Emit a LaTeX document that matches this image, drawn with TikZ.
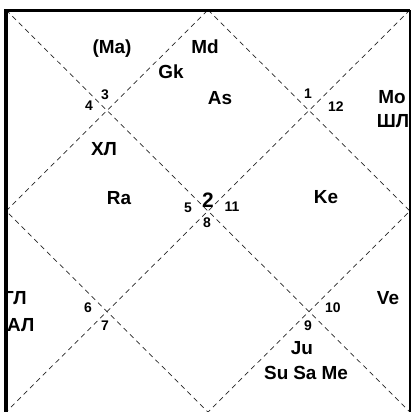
\documentclass[tikz,border=0pt]{standalone}
\usepackage{fontspec}
\setmainfont{Liberation Sans}[BoldFont={Liberation Sans Bold}]
\usetikzlibrary{positioning}

\begin{document}
\begin{tikzpicture}[
    x=1bp, y=-1bp,
    house/.style={
        draw=black!85,
        line width=0.7bp,
        dash pattern=on 5bp off 4bp
    },
    frame/.style={
        draw=black,
        line width=3bp
    },
    planet/.style={
        font=\fontsize{19}{19}\selectfont\bfseries,
        text=black,
        inner sep=0pt
    },
    sign/.style={
        font=\fontsize{14}{14}\selectfont\bfseries,
        text=black,
        inner sep=0pt
    }
]
\useasboundingbox (0,0) rectangle (412,412);

% corners and side midpoints
\coordinate (TL) at (6,10);
\coordinate (TR) at (410,10);
\coordinate (BL) at (6,412);
\coordinate (BR) at (410,412);
\coordinate (T) at (208,10);
\coordinate (R) at (410,211);
\coordinate (B) at (208,412);
\coordinate (L) at (6,211);

% houses
\draw[house] (TL) -- (BR);
\draw[house] (TR) -- (BL);
\draw[house] (T) -- (R) -- (B) -- (L) -- cycle;

% planets
\node[planet] (Ma) at (112,49) {(Ma)};
\node[planet] (Md) at (205,47) {Md};
\node[planet] (Gk) at (171,72) {Gk};
\node[planet] (As) at (220,98) {As};
\node[planet] (HL) at (104,149) {ХЛ};
\node[planet] (Ra) at (119,198) {Ra};
\node[planet] (Mo) at (392,97) {Mo};
\node[planet] (SL) at (393,121) {ШЛ};
\node[planet] (Ke) at (326,197) {Ke};
\node[planet, anchor=west] (GL) at (3,298) {ГЛ};
\node[planet, anchor=west] (AL) at (7,325) {АЛ};
\node[planet] (Ve) at (388,298) {Ve};
\node[planet] (Ju) at (302,348) {Ju};
\node[planet] (SuSaMe) at (306,373) {Su\hspace{5bp}Sa\hspace{5bp}Me};

% signs
\node[sign] (s3) at (105,95) {3};
\node[sign] (s4) at (89,106) {4};
\node[sign] (s1) at (308,94) {1};
\node[sign] (s12) at (336,107) {12};
\node[sign] (s5) at (188,208) {5};
\node[sign, font=\fontsize{21}{21}\selectfont\bfseries] (s2) at (208,200) {2};
\node[sign] (s11) at (232,207) {11};
\node[sign] (s8) at (207,223) {8};
\node[sign] (s6) at (88,308) {6};
\node[sign] (s7) at (105,326) {7};
\node[sign] (s10) at (333,308) {10};
\node[sign] (s9) at (308,326) {9};

% frame
\draw[frame] (BL) -- (TL) -- (TR);
\draw[draw=black, line width=1.5bp] (TR) -- (BR);

\end{tikzpicture}
\end{document}
